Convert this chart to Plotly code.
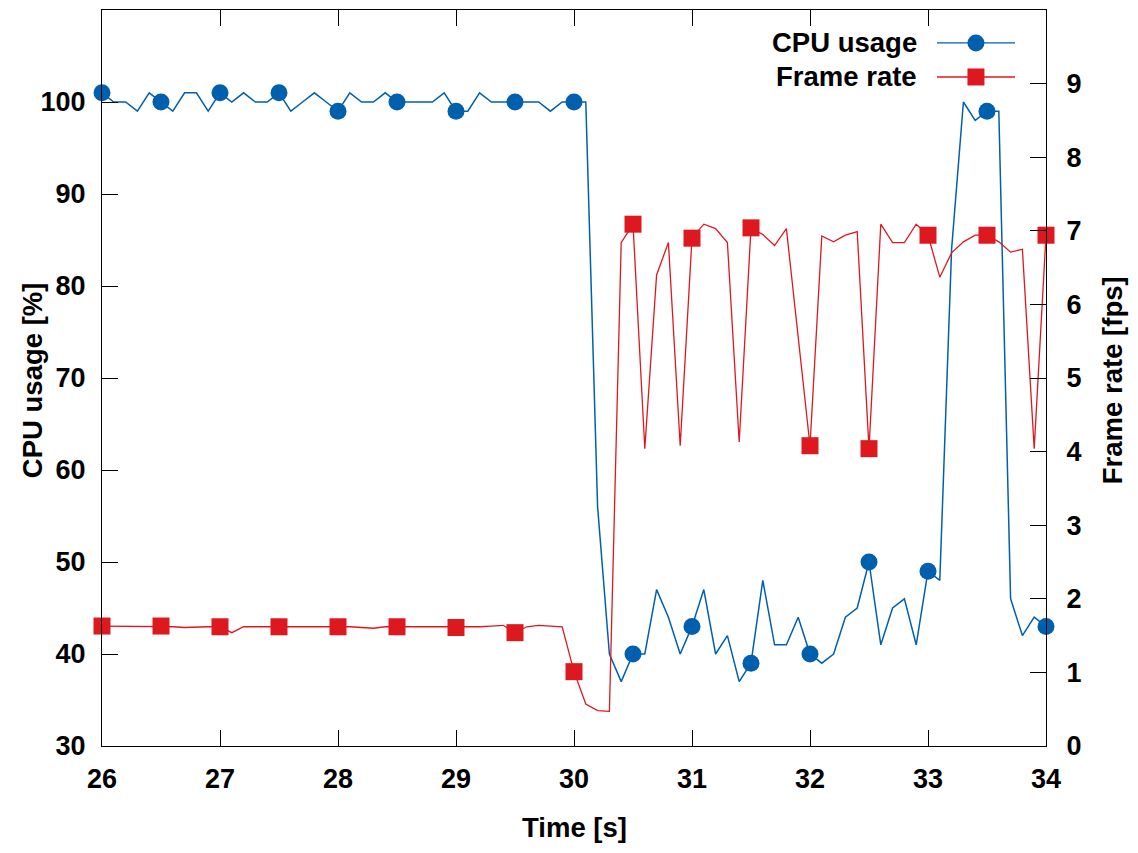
import plotly.graph_objects as go

# ---- data ----
time_s = [26.0, 26.1, 26.2, 26.3, 26.4, 26.5, 26.6, 26.7, 26.8, 26.9,
          27.0, 27.1, 27.2, 27.3, 27.4, 27.5, 27.6, 27.7, 27.8, 27.9,
          28.0, 28.1, 28.2, 28.3, 28.4, 28.5, 28.6, 28.7, 28.8, 28.9,
          29.0, 29.1, 29.2, 29.3, 29.4, 29.5, 29.6, 29.7, 29.8, 29.9,
          30.0, 30.1, 30.2, 30.3, 30.4, 30.5, 30.6, 30.7, 30.8, 30.9,
          31.0, 31.1, 31.2, 31.3, 31.4, 31.5, 31.6, 31.7, 31.8, 31.9,
          32.0, 32.1, 32.2, 32.3, 32.4, 32.5, 32.6, 32.7, 32.8, 32.9,
          33.0, 33.1, 33.2, 33.3, 33.4, 33.5, 33.6, 33.7, 33.8, 33.9,
          34.0]

cpu_usage = [101, 100, 100, 99, 101, 100, 99, 101, 101, 99,
             101, 100, 101, 100, 100, 101, 99, 100, 101, 100,
             99, 101, 100, 100, 101, 100, 100, 100, 100, 101,
             99, 99, 101, 100, 100, 100, 100, 100, 99, 100,
             100, 100, 56, 40, 37, 40, 40, 47, 44, 40,
             43, 47, 40, 42, 37, 39, 48, 41, 41, 44,
             40, 39, 40, 44, 45, 50, 41, 45, 46, 41,
             49, 48, 84, 100, 98, 99, 99, 46, 42, 44,
             43]

frame_rate = [1.63, 1.63, 1.63, 1.63, 1.63, 1.63, 1.62, 1.61, 1.62, 1.62,
              1.62, 1.54, 1.62, 1.62, 1.62, 1.62, 1.62, 1.63, 1.62, 1.62,
              1.62, 1.62, 1.61, 1.60, 1.62, 1.62, 1.62, 1.62, 1.61, 1.62,
              1.61, 1.62, 1.62, 1.63, 1.64, 1.54, 1.62, 1.64, 1.63, 1.62,
              1.01, 0.57, 0.48, 0.47, 6.84, 7.09, 4.04, 6.40, 6.84, 4.08,
              6.90, 7.09, 7.03, 6.84, 4.13, 7.04, 6.95, 6.80, 7.03, 5.55,
              4.08, 6.93, 6.85, 6.94, 6.99, 4.04, 7.09, 6.84, 6.84, 7.09,
              6.94, 6.37, 6.70, 6.85, 6.94, 6.94, 6.85, 6.71, 6.75, 4.04,
              6.94]

x_ticks = [26, 27, 28, 29, 30, 31, 32, 33, 34]
cpu_ticks = [30, 40, 50, 60, 70, 80, 90, 100]
fps_ticks = [0, 1, 2, 3, 4, 5, 6, 7, 8, 9]

series_names = ["CPU usage", "Frame rate"]
marker_every = 5

# ---- style ----
BLUE = "#0060ad"
RED = "#dd181f"
FONT = "Liberation Sans, Arial, sans-serif"
FS_TICK = 27
FS_TITLE = 27.5

fig = go.Figure()
fig.add_trace(go.Scatter(x=time_s, y=cpu_usage, mode="lines",
                         line=dict(color=BLUE, width=1.5), showlegend=False))
fig.add_trace(go.Scatter(x=time_s[::marker_every], y=cpu_usage[::marker_every], mode="markers",
                         marker=dict(symbol="circle", size=17, color=BLUE, line=dict(width=0)),
                         cliponaxis=False, showlegend=False))
fig.add_trace(go.Scatter(x=time_s, y=frame_rate, mode="lines", yaxis="y2",
                         line=dict(color=RED, width=1.3), showlegend=False))
fig.add_trace(go.Scatter(x=time_s[::marker_every], y=frame_rate[::marker_every], mode="markers", yaxis="y2",
                         marker=dict(symbol="square", size=17, color=RED, line=dict(width=0)),
                         cliponaxis=False, showlegend=False))

tickfont = dict(family=FONT, size=FS_TICK, color="black", weight="bold")
common = dict(ticks="inside", ticklen=16, tickwidth=1.2, tickcolor="black",
              showline=True, linecolor="black", linewidth=1.3,
              showgrid=False, zeroline=False, tickfont=tickfont)

# page body has an 8px margin, so the figure is 8px smaller and left/top margins shifted
fig.update_layout(
    width=1130, height=845,
    margin=dict(l=94, r=92, t=2, b=107),
    paper_bgcolor="white", plot_bgcolor="white",
    showlegend=False,
    xaxis=dict(range=[26, 34], tickvals=x_ticks, mirror="ticks", ticklabelstandoff=8, **common),
    yaxis=dict(range=[30, 110], tickvals=cpu_ticks, ticklabelstandoff=10, **common),
    yaxis2=dict(range=[0, 10], tickvals=fps_ticks, overlaying="y", side="right",
                ticklabelstandoff=14, **common),
)

title_font = dict(family=FONT, size=FS_TITLE, color="black", weight="bold")
annotations = [
    dict(text="Time [s]", xref="paper", yref="paper", x=0.5, y=-0.1114,
         xanchor="center", yanchor="middle", showarrow=False, font=title_font),
    dict(text="CPU usage [%]", xref="paper", yref="paper", x=-0.0742, y=0.497,
         xanchor="center", yanchor="middle", textangle=-90, showarrow=False, font=title_font),
    dict(text="Frame rate [fps]", xref="paper", yref="paper", x=1.0699, y=0.497,
         xanchor="center", yanchor="middle", textangle=-90, showarrow=False, font=title_font),
]

# legend (text on left, sample on right)
leg_rows = [0.9552, 0.9090]
leg_colors = [BLUE, RED]
leg_symbols = ["circle", "rect"]
text_x = 0.8655
line_x0, line_x1, mark_x = 0.8845, 0.9672, 0.9258
shapes = []
for name, yy, col, sym in zip(series_names, leg_rows, leg_colors, leg_symbols):
    annotations.append(dict(text=name, xref="paper", yref="paper", x=text_x, y=yy,
                            xanchor="right", yanchor="middle", showarrow=False, font=title_font))
    shapes.append(dict(type="line", xref="paper", yref="paper", x0=line_x0, x1=line_x1,
                       y0=yy, y1=yy, line=dict(color=col, width=1.3)))
    shapes.append(dict(type=sym, xref="paper", yref="paper", xsizemode="pixel", ysizemode="pixel",
                       xanchor=mark_x, yanchor=yy, x0=-8.5, x1=8.5, y0=-8.5, y1=8.5,
                       fillcolor=col, line=dict(width=0)))

fig.update_layout(annotations=annotations, shapes=shapes)
fig.write_html("out.html")
